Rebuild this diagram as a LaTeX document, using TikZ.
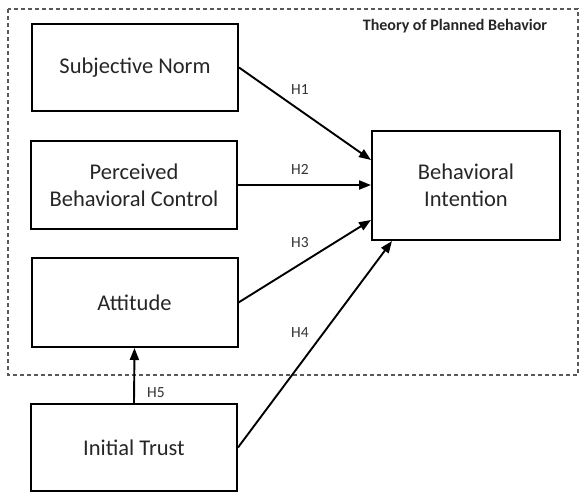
\documentclass[tikz,border=0pt]{standalone}
\usepackage{fontspec}
\setmainfont{Carlito}
\usetikzlibrary{arrows.meta}

\begin{document}
\begin{tikzpicture}[x=1pt,y=-1pt,
    box/.style={draw,line width=2pt,text=black!85,font=\fontsize{22.5}{27}\selectfont,align=center,
      minimum width=206pt,minimum height=87pt,inner sep=0pt},
    link/.style={line width=1.9pt,-{Triangle[length=12pt,width=9pt]}},
    hyp/.style={font=\fontsize{15.5}{18}\selectfont,text=black!80}]
  \useasboundingbox (0,0) rectangle (586,501);
  \draw[dashed,black!65,line width=1.3pt,dash pattern=on 4pt off 3pt] (8,9) rectangle (578,375);
  \node[font=\bfseries\fontsize{16}{18}\selectfont,text=black!85] (tpb) at (455,26) {Theory of Planned Behavior};
  \node[box] (sn) at (135,67.5) {Subjective Norm};
  \node[box,minimum height=88pt] (pbc) at (134,185) {Perceived\\Behavioral Control};
  \node[box,minimum height=89pt] (att) at (134.5,302.5) {Attitude};
  \node[box] (trust) at (134,447.5) {Initial Trust};
  \node[box,minimum width=188pt,minimum height=109pt] (bi) at (466,185.5) {Behavioral\\Intention};
  \draw[link] (sn.east) -- ([yshift=25.5pt]bi.west);
  \draw[link] (pbc.east) -- (pbc.east -| bi.west);
  \draw[link] (att.east) -- ([yshift=-34.5pt]bi.west);
  \draw[link] (trust.east) -- ([xshift=21pt]bi.south west);
  \draw[link] (trust.north) -- (att.south);
  \node[hyp] (h1) at (300,90) {H1};
  \node[hyp] (h2) at (300,169) {H2};
  \node[hyp] (h3) at (300,243) {H3};
  \node[hyp] (h4) at (300,333) {H4};
  \node[hyp] (h5) at (156,393) {H5};
\end{tikzpicture}
\end{document}
